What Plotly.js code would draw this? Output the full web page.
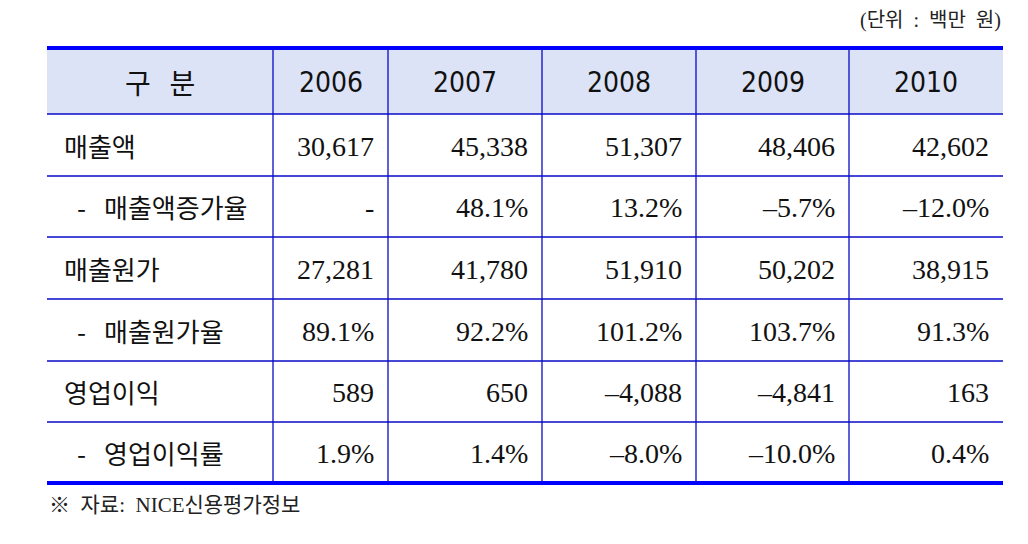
<!DOCTYPE html>
<html>
<head>
<meta charset="utf-8">
<script src="https://cdn.plot.ly/plotly-3.0.1.min.js"></script>
<style>html,body{margin:0;padding:0;background:#fff;}#chart{width:1028px;height:544px;}</style>
</head>
<body>
<div id="chart"></div>
<script>
// ---- data ----
var headerLabel = '구 분';
var years = ['2006', '2007', '2008', '2009', '2010'];
var rowLabels = ['매출액', '- 매출액증가율', '매출원가', '- 매출원가율', '영업이익', '- 영업이익률'];
var sales = [30617, 45338, 51307, 48406, 42602];
var salesGrowth = [null, 48.1, 13.2, -5.7, -12.0];
var costOfSales = [27281, 41780, 51910, 50202, 38915];
var costRatio = [89.1, 92.2, 101.2, 103.7, 91.3];
var opIncome = [589, 650, -4088, -4841, 163];
var opMargin = [1.9, 1.4, -8.0, -10.0, 0.4];
var rowKinds = ['num', 'pct', 'num', 'pct', 'num', 'pct'];
var unitText = '(단위 : 백만 원)';
var sourceText = '※ 자료: NICE신용평가정보';

// ---- layout constants ----
var W = 1028, H = 544;
var colEdges = [47, 273, 388, 542, 696, 849, 1003];
var rowEdges = [48, 114, 176, 237, 299, 361, 422, 483];
var thin = '#0a0ac8', thick = '#0000ff';
var serif = '"Liberation Serif", "Times New Roman", serif';
var kor = '"Noto Sans CJK KR", "Noto Sans", sans-serif';
var mixed = '"Liberation Serif", "Noto Sans CJK KR", serif';
var narrow = '"Liberation Sans Narrow", "DejaVu Sans Condensed", "Liberation Sans", sans-serif';

var rows = [sales, salesGrowth, costOfSales, costRatio, opIncome, opMargin];

function fmt(v, kind) {
  if (v === null || v === undefined) return '-';
  var s;
  if (kind === 'pct') s = Math.abs(v).toFixed(1) + '%';
  else s = Math.abs(v).toString().replace(/\B(?=(\d{3})+(?!\d))/g, ',');
  return (v < 0 ? '\u2013' : '') + s;
}

var shapes = [];
var ann = [];

// header background
shapes.push({type: 'rect', xref: 'x', yref: 'y', x0: colEdges[0], x1: colEdges[colEdges.length - 1],
  y0: rowEdges[0], y1: rowEdges[1], fillcolor: '#dde3f6', line: {width: 0}, layer: 'below'});

// horizontal thin lines
for (var r = 1; r < rowEdges.length - 1; r++) {
  shapes.push({type: 'line', xref: 'x', yref: 'y', x0: colEdges[0], x1: colEdges[colEdges.length - 1],
    y0: rowEdges[r], y1: rowEdges[r], line: {color: thin, width: 1.3}});
}
// vertical lines
for (var c = 1; c < colEdges.length - 1; c++) {
  shapes.push({type: 'line', xref: 'x', yref: 'y', x0: colEdges[c], x1: colEdges[c],
    y0: rowEdges[0], y1: rowEdges[rowEdges.length - 1], line: {color: thin, width: 1.3}});
}
// thick top and bottom
[rowEdges[0], rowEdges[rowEdges.length - 1]].forEach(function (yy) {
  shapes.push({type: 'line', xref: 'x', yref: 'y', x0: colEdges[0], x1: colEdges[colEdges.length - 1],
    y0: yy, y1: yy, line: {color: thick, width: 4}});
});

function rowMid(i) { return (rowEdges[i] + rowEdges[i + 1]) / 2; }
function colMid(i) { return (colEdges[i] + colEdges[i + 1]) / 2; }

// header
ann.push({x: colMid(0), y: rowMid(0) + 1, text: headerLabel.replace(' ', '&nbsp;&nbsp;&nbsp;'), showarrow: false,
  xanchor: 'center', yanchor: 'middle', font: {family: kor, size: 28, color: '#111'}});
years.forEach(function (yr, j) {
  ann.push({x: colMid(j + 1), y: rowMid(0) + 1, text: yr, showarrow: false, xanchor: 'center', yanchor: 'middle',
    font: {family: narrow, size: 28, color: '#111'}});
});

// body
rowLabels.forEach(function (lab, i) {
  var y = rowMid(i + 1);
  if (lab.indexOf('- ') === 0) {
    ann.push({x: colEdges[0] + 28, y: y, text: '-', showarrow: false, xanchor: 'left', yanchor: 'middle',
      font: {family: kor, size: 26, color: '#111'}});
    ann.push({x: colEdges[0] + 55, y: y, text: lab.slice(2), showarrow: false, xanchor: 'left', yanchor: 'middle',
      font: {family: kor, size: 26, color: '#111'}});
  } else {
    ann.push({x: colEdges[0] + 15, y: y, text: lab, showarrow: false, xanchor: 'left', yanchor: 'middle',
      font: {family: kor, size: 26, color: '#111'}});
  }
  rows[i].forEach(function (v, j) {
    ann.push({x: colEdges[j + 2] - 12, y: y + 1, text: fmt(v, rowKinds[i]), showarrow: false,
      xanchor: 'right', yanchor: 'middle', font: {family: serif, size: 28, color: '#111'}});
  });
});

// unit & source
ann.push({x: colEdges[colEdges.length - 1], y: 20, text: unitText.replace(/ /g, '&nbsp;&nbsp;'), showarrow: false,
  xanchor: 'right', yanchor: 'middle', font: {family: mixed, size: 20, color: '#222'}});
ann.push({x: colEdges[0], y: 505, text: sourceText.replace(/ /g, '&nbsp;&nbsp;'), showarrow: false,
  xanchor: 'left', yanchor: 'middle', font: {family: mixed, size: 21, color: '#222'}});

var layout = {
  width: W, height: H,
  margin: {l: 0, r: 0, t: 0, b: 0, pad: 0},
  paper_bgcolor: '#fff', plot_bgcolor: '#fff',
  xaxis: {range: [0, W], visible: false, fixedrange: true},
  yaxis: {range: [H, 0], visible: false, fixedrange: true},
  shapes: shapes,
  annotations: ann,
  showlegend: false
};

Plotly.newPlot('chart', [{x: [], y: [], type: 'scatter', mode: 'markers', hoverinfo: 'skip'}], layout,
  {displayModeBar: false, staticPlot: true});
</script>
</body>
</html>
